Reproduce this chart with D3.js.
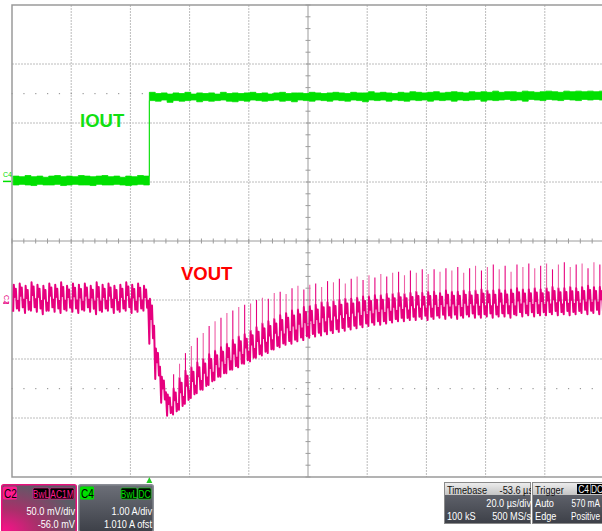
<!DOCTYPE html>
<html><head><meta charset="utf-8">
<script src="https://cdn.jsdelivr.net/npm/d3@7"></script>
<style>
html,body{margin:0;padding:0;background:#fff;overflow:hidden}
text{font-family:"Liberation Sans",Arial,sans-serif}
</style>
</head><body>
<svg id="scope" width="602" height="531"></svg>
<script>
// ---------- acquisition settings ----------
const timePerDiv = 20;        // µs/div
const timeDelay = -53.6;      // µs
const hDivs = 10, vDivs = 8;
const c2PerDiv = 50.0;        // mV/div
const c2Offset = -56.0;       // mV
const c4PerDiv = 1.00;        // A/div
const c4Offset = 1.010;       // A
const ripplePeriod = 2.0;     // µs, switching cycle
const firstCycle = -46;       // µs, start of first recorded cycle

// ---------- C2 (VOUT), per switching cycle, mV ----------
const vHi = [19,20,18,21,19,18,20,19,21,18,20,19,20,18,21,19,20,18,19,21,19,20,18,
  7,-35,-59,-74,-69,-60,-54,-51,-47,-44,-40,-37,-34,-31,-28,-25,-23,-20,-17,-14,-12,-10,
  -7,-5,-3,-2,0,1,2,4,4,5,6,7,7,8,9,9,10,10,11,11,12,11,12,13,12,13,13,12,14,13,13,14,
  13,14,15,14,14,15,14,15,16,15,15,16,15,16,17,16,16,17,16,17,18,17,17];
const vLo = [-4,-3,-5,-3,-4,-6,-3,-4,-5,-3,-4,-5,-3,-4,-6,-4,-3,-5,-4,-3,-5,-4,-3,
  -31,-61,-81,-92,-91,-87,-82,-77,-73,-70,-66,-62,-59,-56,-53,-51,-48,-46,-43,-41,-39,-36,
  -34,-32,-31,-29,-28,-26,-25,-24,-23,-22,-21,-20,-19,-18,-17,-16,-15,-15,-14,-13,-12,-12,
  -11,-11,-10,-11,-10,-9,-10,-9,-10,-9,-8,-9,-9,-8,-9,-8,-8,-9,-7,-8,-7,-8,-7,-7,-6,-7,-6,
  -7,-6,-5,-6,-5,-6];
const vSpike = [null,null,null,null,null,null,null,null,null,null,null,null,null,null,null,
  null,null,null,null,null,null,null,null,null,null,null,null,
  -57,-48,-39,-33,-26,-22,-16,-12,-9,-5,-3,0,2,3,6,8,7,12,13,11,16,18,15,19,20,17,22,21,24,
  20,24,26,23,27,25,28,26,29,30,27,31,29,32,28,32,30,33,31,34,29,33,35,31,34,36,32,35,30,
  36,34,37,33,35,37,32,36,38,34,36,37,33,38,36];
// shape of one ripple cycle: phase within the period and level between low and high
const ripplePhase = [0, 0.1, 0.28, 0.45, 0.62, 0.8];
const rippleLevel = [0, 1, 0.55, 0.85, 0.12, 0.4];

// ---------- C4 (IOUT), per switching cycle, A ----------
const iHi = [0.09,0.08,0.10,0.08,0.09,0.07,0.09,0.10,0.08,0.09,0.08,0.10,0.09,0.08,0.09,0.10,
  0.08,0.09,0.07,0.09,0.08,0.10,0.09,
  1.51,1.49,1.50,1.48,1.50,1.49,1.51,1.48,1.50,1.49,1.50,1.48,1.51,1.49,1.50,1.49,1.50,1.51,
  1.49,1.50,1.48,1.50,1.51,1.49,1.50,1.50,1.49,1.51,1.50,1.49,1.50,1.51,1.50,1.49,1.51,1.50,
  1.50,1.52,1.50,1.51,1.50,1.49,1.51,1.50,1.52,1.51,1.50,1.51,1.52,1.50,1.51,1.52,1.51,1.50,
  1.52,1.51,1.52,1.51,1.53,1.51,1.52,1.52,1.51,1.53,1.52,1.51,1.52,1.53,1.52,1.51,1.53,1.52,
  1.53,1.52,1.53,1.52,1.53];
const iLo = [-0.06,-0.05,-0.06,-0.07,-0.05,-0.06,-0.06,-0.05,-0.07,-0.06,-0.05,-0.06,-0.06,
  -0.07,-0.05,-0.06,-0.06,-0.05,-0.06,-0.07,-0.06,-0.05,-0.06,
  1.37,1.36,1.38,1.34,1.37,1.36,1.37,1.38,1.35,1.37,1.36,1.37,1.38,1.36,1.35,1.37,1.36,1.38,
  1.37,1.36,1.37,1.38,1.36,1.37,1.35,1.38,1.37,1.36,1.38,1.37,1.36,1.38,1.37,1.36,1.38,1.37,
  1.35,1.38,1.37,1.38,1.36,1.38,1.37,1.36,1.38,1.37,1.38,1.36,1.38,1.37,1.38,1.36,1.38,1.37,
  1.38,1.39,1.36,1.38,1.37,1.38,1.39,1.37,1.38,1.36,1.39,1.38,1.37,1.39,1.38,1.37,1.39,1.38,
  1.37,1.39,1.38,1.39,1.38];

// ---------- text ----------
const traceLabels = [{text:"IOUT", ch:"C4"}, {text:"VOUT", ch:"C2"}];
const c2Info = {name:"C2", tags:["BwL","AC1M"], rows:["50.0 mV/div","-56.0 mV"]};
const c4Info = {name:"C4", tags:["BwL","DC"], rows:["1.00 A/div","1.010 A ofst"]};
const timebaseInfo = {title:"Timebase", value:"-53.6 µs", rows:[["","20.0 µs/div"],["100 kS","500 MS/s"]]};
const triggerInfo = {title:"Trigger", tags:["C4","DC"], rows:[["Auto","570 mA"],["Edge","Positive"]]};

// ---------- colours ----------
const C2_COLOR = "#e6007e", C2_LIGHT = "#ee5fa6";
const C4_COLOR = "#00e000";

// ---------- layout ----------
const W = 602, H = 531;
const plot = {left:12, top:5, right:604, bottom:477};

const svg = d3.select("#scope");
const defs = svg.append("defs");
defs.append("clipPath").attr("id","plotClip").append("rect")
  .attr("x",plot.left).attr("y",plot.top)
  .attr("width",plot.right-plot.left).attr("height",plot.bottom-plot.top);

const tCenter = -timeDelay;
const x = d3.scaleLinear()
  .domain([tCenter - timePerDiv*hDivs/2, tCenter + timePerDiv*hDivs/2])
  .range([plot.left, plot.right]);
const yDiv = d3.scaleLinear().domain([-vDivs/2, vDivs/2]).range([plot.bottom, plot.top]);
const y2 = d3.scaleLinear()
  .domain([-vDivs/2*c2PerDiv - c2Offset, vDivs/2*c2PerDiv - c2Offset])
  .range([plot.bottom, plot.top]);
const y4 = d3.scaleLinear()
  .domain([-vDivs/2*c4PerDiv - c4Offset, vDivs/2*c4PerDiv - c4Offset])
  .range([plot.bottom, plot.top]);

// ---------- graticule ----------
const grid = svg.append("g");
const t0 = x.domain()[0];
const vLines = d3.range(1, hDivs).filter(k => k !== hDivs/2).map(k => t0 + k*timePerDiv);
grid.selectAll(".gv").data(vLines).join("line")
  .attr("x1",d=>x(d)).attr("x2",d=>x(d)).attr("y1",plot.top).attr("y2",plot.bottom)
  .attr("stroke","#bcbcbc").attr("stroke-dasharray","2,1");
const hLines = d3.range(-vDivs/2+1, vDivs/2).filter(k => k !== 0);
grid.selectAll(".gh").data(hLines).join("line")
  .attr("x1",plot.left).attr("x2",plot.right).attr("y1",d=>yDiv(d)).attr("y2",d=>yDiv(d))
  .attr("stroke","#bcbcbc").attr("stroke-dasharray","2,1");

// minor tick rows at ±2.5 div
const minorT = d3.range(0, hDivs*5+1).map(k => t0 + k*timePerDiv/5);
[2.5,-2.5].forEach(dv => {
  grid.selectAll(null).data(minorT).join("rect")
    .attr("x",d=>x(d)-0.5).attr("y",yDiv(dv)-0.5).attr("width",1.2).attr("height",1.2)
    .attr("fill","#9a9a9a");
});

// centre cross with minor ticks
const axisColor = "#9c9c9c";
grid.append("line").attr("x1",plot.left).attr("x2",plot.right)
  .attr("y1",yDiv(0)).attr("y2",yDiv(0)).attr("stroke",axisColor);
grid.append("line").attr("x1",x(tCenter)).attr("x2",x(tCenter))
  .attr("y1",plot.top).attr("y2",plot.bottom).attr("stroke",axisColor);
grid.selectAll(".mt").data(minorT).join("line")
  .attr("x1",d=>x(d)).attr("x2",d=>x(d)).attr("y1",yDiv(0)-2.5).attr("y2",yDiv(0)+2.5)
  .attr("stroke",axisColor);
const minorV = d3.range(0, vDivs*5+1).map(k => -vDivs/2 + k/5);
grid.selectAll(".mv").data(minorV).join("line")
  .attr("x1",x(tCenter)-2.5).attr("x2",x(tCenter)+2.5).attr("y1",d=>yDiv(d)).attr("y2",d=>yDiv(d))
  .attr("stroke",axisColor);

// frame (left, top, bottom)
grid.append("path")
  .attr("d",`M${plot.right},${plot.top}H${plot.left}V${plot.bottom}H${plot.right}`)
  .attr("fill","none").attr("stroke","#9a9a9a").attr("stroke-width",1.5);

// ---------- traces ----------
const traces = svg.append("g").attr("clip-path","url(#plotClip)");

// IOUT band
const iData = iHi.map((h,i) => ({t:firstCycle + i*ripplePeriod, hi:h, lo:iLo[i]}));
iData.push({t:x.domain()[1], hi:iHi[iHi.length-1], lo:iLo[iLo.length-1]});
traces.append("path").datum(iData)
  .attr("d", d3.area().curve(d3.curveStepAfter)
    .x(d=>x(d.t)).y0(d=>y4(d.lo)).y1(d=>y4(d.hi)))
  .attr("fill",C4_COLOR).attr("stroke",C4_COLOR).attr("stroke-width",0.8);

// VOUT ripple
const vPoints = [];
vHi.forEach((hi,i) => {
  const ts = firstCycle + i*ripplePeriod, lo = vLo[i];
  ripplePhase.forEach((ph,j) => vPoints.push([ts + ph*ripplePeriod, lo + rippleLevel[j]*(hi-lo)]));
});
traces.append("path").datum(vPoints)
  .attr("d", d3.line().x(d=>x(d[0])).y(d=>y2(d[1])))
  .attr("fill","none").attr("stroke",C2_COLOR).attr("stroke-width",2)
  .attr("stroke-linejoin","round");
const spikes = vSpike.map((s,i) => ({t:firstCycle + i*ripplePeriod + ripplePhase[1]*ripplePeriod, hi:vHi[i], top:s}))
  .filter(d => d.top !== null);
traces.selectAll(".spk").data(spikes).join("line")
  .attr("x1",d=>x(d.t)).attr("x2",d=>x(d.t))
  .attr("y1",d=>y2(d.hi)).attr("y2",d=>y2(d.top))
  .attr("stroke",(d,i)=> i%2 ? C2_LIGHT : C2_COLOR).attr("stroke-width",1.1);

// ---------- trace labels ----------
svg.append("text").text(traceLabels[0].text).attr("x",80).attr("y",127)
  .attr("font-size",18.5).attr("font-weight","bold").attr("fill","#11e011");
svg.append("text").text(traceLabels[1].text).attr("x",181).attr("y",280)
  .attr("font-size",18.5).attr("font-weight","bold").attr("fill","#ff0000");

// ---------- channel ground markers ----------
svg.append("text").text("C4").attr("x",3).attr("y",177).attr("font-size",7).attr("fill",C4_COLOR);
svg.append("line").attr("x1",3).attr("x2",11).attr("y1",y4(0)).attr("y2",y4(0))
  .attr("stroke",C4_COLOR).attr("stroke-width",1.5);
svg.append("text").text("C2").attr("transform",`translate(4,${y2(0)-12}) rotate(90)`)
  .attr("font-size",7).attr("fill",C2_COLOR);
svg.append("line").attr("x1",3).attr("x2",9).attr("y1",y2(0)-4).attr("y2",y2(0)-4)
  .attr("stroke",C2_COLOR).attr("stroke-width",1.3);

// trigger position marker
const tx = x(0);
svg.append("path").attr("d",`M${tx-3},483L${tx+3},483L${tx},477Z`).attr("fill","#22cc22");

// ---------- status boxes ----------
const bodyGrad = defs.append("linearGradient").attr("id","bodyGrad").attr("x1",0).attr("y1",0).attr("x2",0).attr("y2",1);
bodyGrad.append("stop").attr("offset","0%").attr("stop-color","#6c6f78");
bodyGrad.append("stop").attr("offset","100%").attr("stop-color","#3d4048");
const c2Grad = defs.append("radialGradient").attr("id","c2Grad").attr("cx","0%").attr("cy","100%").attr("r","110%");
c2Grad.append("stop").attr("offset","0%").attr("stop-color","#ff0f8c");
c2Grad.append("stop").attr("offset","45%").attr("stop-color","#a8306a");
c2Grad.append("stop").attr("offset","100%").attr("stop-color","#5a5d66");
const headGrad = defs.append("linearGradient").attr("id","headGrad").attr("x1",0).attr("y1",0).attr("x2",0).attr("y2",1);
headGrad.append("stop").attr("offset","0%").attr("stop-color","#ececec");
headGrad.append("stop").attr("offset","100%").attr("stop-color","#c4c4c4");

const narrow = 0.8;
function txt(g, s, xx, yy, opt={}) {
  return g.append("text").text(s).attr("font-size",opt.size||11)
    .attr("fill",opt.fill||"#fff")
    .attr("transform",`translate(${xx},${yy}) scale(${opt.sx||narrow},1)`)
    .attr("text-anchor",opt.anchor||"start");
}

function channelBox(info, bx, bw, color, fillId, border) {
  const g = svg.append("g");
  const cid = "clip"+info.name;
  defs.append("clipPath").attr("id",cid).append("rect").attr("x",bx).attr("y",484).attr("width",bw).attr("height",H-484);
  g.attr("clip-path",`url(#${cid})`);
  g.append("rect").attr("x",bx+0.75).attr("y",484.75).attr("width",bw-1.5).attr("height",H-484)
    .attr("rx",2).attr("fill",`url(#${fillId})`).attr("stroke",border).attr("stroke-width",1.5);
  g.append("rect").attr("x",bx+2).attr("y",486.5).attr("width",14).attr("height",13).attr("rx",1.5).attr("fill",color);
  txt(g, info.name, bx+3, 498, {size:12.5, fill:"#000"});
  let right = bx + bw - 2;
  const widths = info.tags.map(s => s.length > 3 ? 25 : (s.length === 3 ? 17 : 14));
  for (let k = info.tags.length-1; k >= 0; k--) {
    const w = widths[k];
    right -= w;
    g.append("rect").attr("x",right).attr("y",488).attr("width",w-1).attr("height",11).attr("rx",1.5)
      .attr("fill","#000").attr("stroke",color).attr("stroke-width",0.6);
    txt(g, info.tags[k], right + (w-1)/2, 497.5, {size:10.5, fill:color, anchor:"middle"});
  }
  txt(g, info.rows[0], bx+bw-2, 515, {size:11.5, anchor:"end"});
  txt(g, info.rows[1], bx+bw-2, 527.5, {size:11.5, anchor:"end"});
}
channelBox(c2Info, 1, 76, "#ff1a90", "c2Grad", "#e8107c");
channelBox(c4Info, 78, 76, C4_COLOR, "bodyGrad", "#8a8d95");

function infoBox(id, bx, bw, title, value, tags, rows, rightEdge, rowSx) {
  const g = svg.append("g");
  defs.append("clipPath").attr("id",id).append("rect").attr("x",bx).attr("y",482).attr("width",bw).attr("height",H-482);
  g.attr("clip-path",`url(#${id})`);
  g.append("rect").attr("x",bx+0.5).attr("y",482.5).attr("width",bw-1).attr("height",41)
    .attr("fill","url(#bodyGrad)").attr("stroke","#8a8a8a");
  g.append("rect").attr("x",bx+1).attr("y",483).attr("width",bw-2).attr("height",12).attr("fill","url(#headGrad)");
  txt(g, title, bx+3, 493.5, {size:11.5, fill:"#111"});
  if (value) txt(g, value, bx+bw+2, 493.5, {size:11.5, fill:"#111", anchor:"end"});
  if (tags) {
    let left = bx + 45;
    tags.forEach(s => {
      g.append("rect").attr("x",left).attr("y",484).attr("width",13).attr("height",10).attr("fill","#000");
      txt(g, s, left+6.5, 493, {size:10.5, fill:"#f0f0f0", anchor:"middle"});
      left += 13.5;
    });
  }
  rows.forEach((r,k) => {
    const yy = 507 + k*13;
    if (r[0]) txt(g, r[0], bx+3, yy, {size:11.5});
    txt(g, r[1], rightEdge, yy, {size:11.5, anchor:"end", sx:rowSx});
  });
}
infoBox("clipTb", 444, 87, timebaseInfo.title, timebaseInfo.value, null, timebaseInfo.rows, 531, narrow);
infoBox("clipTr", 532, 72, triggerInfo.title, null, triggerInfo.tags, triggerInfo.rows, 600, 0.72);
</script>
</body></html>
